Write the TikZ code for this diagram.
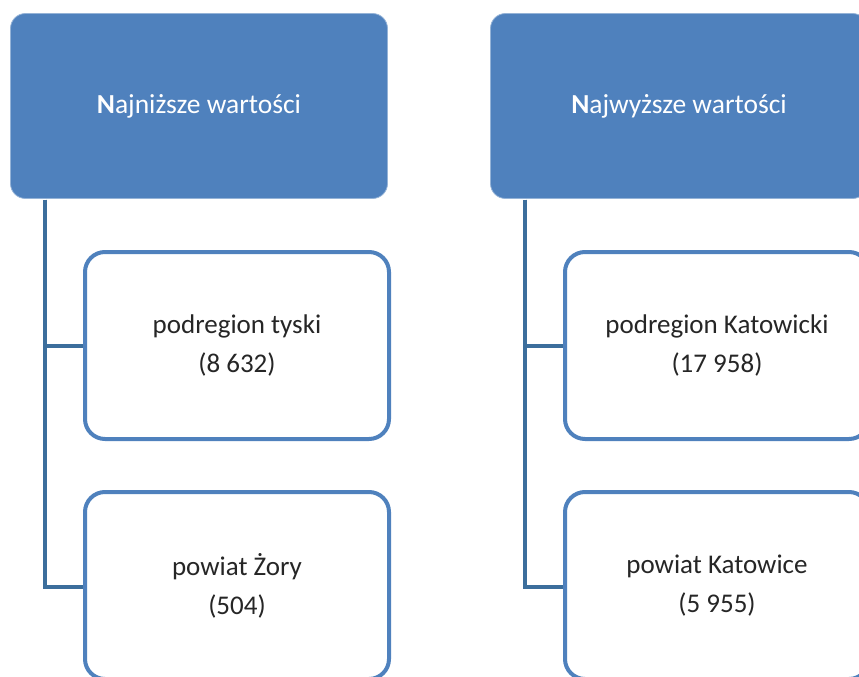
\documentclass[tikz,border=0pt]{standalone}
\usepackage{fontspec}
\setmainfont{Carlito}
\usepackage{tikz}
\usetikzlibrary{positioning,calc}
\definecolor{accblue}{HTML}{4F81BD}
\definecolor{lineblue}{HTML}{3C6E9C}
\definecolor{txtgray}{HTML}{262626}
\tikzset{
  headbox/.style={draw=accblue!60!white,line width=0.8pt,fill=accblue,
    rounded corners=15pt,minimum width=377pt,minimum height=185pt,
    text=white,font=\fontsize{27.5}{39}\selectfont,align=center,inner sep=0pt},
  itembox/.style={draw=accblue,line width=4pt,fill=white,rounded corners=20pt,
    minimum width=304pt,minimum height=187pt,text=txtgray,
    font=\fontsize{27}{39}\selectfont,align=center,inner sep=0pt},
  tline/.style={draw=lineblue,line width=4pt},
}
\begin{document}
\begin{tikzpicture}[x=1pt,y=-1pt]
  \clip (0,0) rectangle (859,677);
  % lewa strona
  \node[headbox] (lowhead) at (199,106) {\textbf{N}ajniższe wartości};
  \coordinate (lowtop) at (45,199.5);
  \draw[tline] (lowtop) |- (237,587);
  \draw[tline] (lowtop) |- (237,346);
  \node[itembox] (lowa) at (237,345.5) {podregion tyski\\(8 632)};
  \node[itembox] (lowb) at (237,585.5) {powiat Żory\\(504)};
  % prawa strona
  \node[headbox] (highhead) at (679,106) {\textbf{N}ajwyższe wartości};
  \coordinate (hightop) at (525,199.5);
  \draw[tline] (hightop) |- (717,587);
  \draw[tline] (hightop) |- (717,346);
  \node[itembox] (higha) at (717,345.5) {podregion Katowicki\\(17 958)};
  \node[itembox] (highb) at (717,585.5) {powiat Katowice\\(5 955)};
\end{tikzpicture}
\end{document}
